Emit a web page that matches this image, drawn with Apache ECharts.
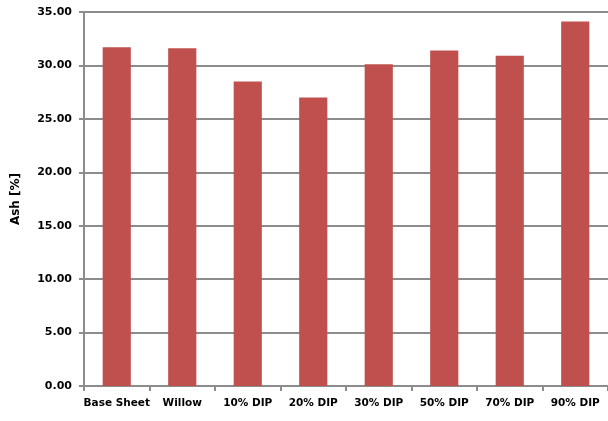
<!DOCTYPE html>
<html><head><meta charset="utf-8">
<script src="https://cdn.jsdelivr.net/npm/echarts@6/dist/echarts.min.js"></script>
<style>html,body{margin:0;padding:0;background:#fff}#c{width:608px;height:421px}</style>
</head><body><div id="c"></div>
<script>
const categories = ['Base Sheet','Willow','10% DIP','20% DIP','30% DIP','50% DIP','70% DIP','90% DIP'];
const ashValues = [31.7, 31.6, 28.5, 27.0, 30.1, 31.4, 30.9, 34.1];
const yAxisName = 'Ash [%]';

const chart = echarts.init(document.getElementById('c'));
chart.setOption({
  animation: false,
  grid: {left: 84, right: 0, top: 12, bottom: 35},
  xAxis: {
    type: 'category', data: categories,
    axisLine: {lineStyle: {color: '#8c8c8c', width: 2}},
    axisTick: {show: true, length: 5, lineStyle: {color: '#8c8c8c', width: 2}},
    axisLabel: {color: '#000', fontFamily: 'DejaVu Sans', fontWeight: 'bold', fontSize: 10.5, margin: 12, interval: 0}
  },
  yAxis: {
    type: 'value', min: 0, max: 35, interval: 5,
    name: yAxisName, nameLocation: 'middle', nameGap: 62,
    nameTextStyle: {color: '#000', fontFamily: 'DejaVu Sans', fontWeight: 'bold', fontSize: 12},
    axisLine: {show: true, lineStyle: {color: '#8c8c8c', width: 2}},
    axisTick: {show: true, length: 5, lineStyle: {color: '#8c8c8c', width: 2}},
    axisLabel: {color: '#000', fontFamily: 'DejaVu Sans', fontWeight: 'bold', fontSize: 11, margin: 12,
      formatter: v => v.toFixed(2)},
    splitLine: {lineStyle: {color: '#8c8c8c', width: 2}}
  },
  series: [{
    type: 'bar', data: ashValues, barWidth: '43%',
    itemStyle: {color: '#C0504D'}
  }]
});
</script></body></html>
